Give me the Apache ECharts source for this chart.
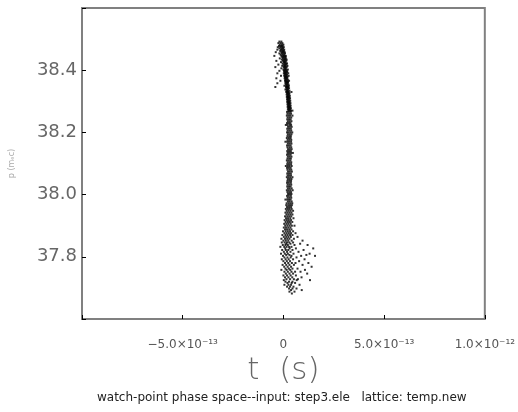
<!DOCTYPE html>
<html>
<head>
<meta charset="utf-8">
<script src="https://cdn.jsdelivr.net/npm/echarts@6/dist/echarts.min.js"></script>
<style>html,body{margin:0;padding:0;background:#fff}#c{width:518px;height:412px}</style>
</head>
<body>
<div id="c"></div>
<script>
// x axis in femtoseconds (1 fs = 1e-15 s); tick labels expressed in seconds
const xTickValues = [-1000, -500, 0, 500, 1000];
const xTickLabels = ['', '\u22125.0\u00d710\u207b\u00b9\u00b3', '0', '5.0\u00d710\u207b\u00b9\u00b3', '1.0\u00d710\u207b\u00b9\u00b2'];
const yTickValues = [37.8, 38.0, 38.2, 38.4];
const xTitle = 't  (s)';
const yTitle = 'p (m\u2091c)';
const subTitle = 'watch-point phase space--input: step3.ele   lattice: temp.new';

// particles: rows of momentum p, each with the t values (fs)
const rowP = [
38.492,38.487,38.482,38.478,38.474,38.470,38.466,38.462,38.458,38.454,38.450,38.446,38.442,38.438,38.434,38.430,
38.426,38.422,38.418,38.414,38.410,38.406,38.402,38.398,38.394,38.390,38.386,38.382,38.378,38.374,38.370,38.366,
38.362,38.358,38.354,38.350,38.346,38.342,38.338,38.334,38.330,38.326,38.322,38.318,38.314,38.310,38.306,38.302,
38.298,38.294,38.290,38.286,38.282,38.278,38.274,38.270,
38.266,38.260,38.254,38.248,38.242,38.236,38.230,38.224,38.218,38.212,38.206,38.200,38.194,38.188,38.182,38.176,
38.170,38.164,38.158,38.152,38.146,38.140,38.134,38.128,38.122,38.116,38.110,38.104,38.098,38.092,38.086,38.080,
38.074,38.068,38.062,38.056,38.050,38.044,38.038,38.032,38.026,38.020,38.014,38.008,38.002,37.996,37.990,37.984,
37.978,37.972,
37.966,37.960,37.954,37.948,37.942,37.936,37.930,37.924,37.918,37.912,37.906,37.900,37.894,37.888,37.882,
37.876,37.870,37.864,37.858,37.852,37.846,37.842,37.838,37.832,37.827,37.822,37.816,37.810,37.806,37.803,37.798,
37.792,37.786,37.780,37.774,37.768,37.762,37.758,37.752,37.746,37.740,37.734,37.728,37.725,37.720,37.716,37.710,
37.704,37.698,37.693,37.688,37.682
];
const rowT = [
[-20,-10],[-25,-14,-5],[-18,-8,0],[-22,-12,-4],[-28,-15,-6,2],[-20,-10,-2],[-30,-12,-4,4],[-16,-6,2],
[-38,-10,-2,6],[-20,-8,0,8],[-14,-4,4],[-45,-10,-1,6,12],[-6,2,10],[-18,-3,5,12],[-8,1,8,16],[-35,-2,6,14],
[-12,3,9],[-4,5,12,18],[-25,0,8,15],[-6,4,10,20],[-40,2,9,16],[-10,5,12],[0,8,14,22],[-20,3,10,17],
[5,12,19],[-30,2,8,14,24],[6,12,18],[-12,4,10,16,26],[8,14,20],[-35,6,12,18],[9,15,22],[-15,8,14,20,28],
[11,17,23],[-30,10,16,22],[12,18,25],[5,14,20,27],[-40,13,19,24],[15,21,28],[10,17,23],[16,22,30],
[14,20,26,40],[18,24,30],[16,22,28],[19,25,32],[17,23,29],[20,26,33],[18,24,30],[21,27,34],
[19,25,31],[22,28,35],[20,26,32],[23,29,36],[21,27,33],[24,30,37],[22,28,34],[25,31,38,45],
[18,27,36],[20,29,38],[17,26,34,45],[21,30,39],[19,28,36],[22,31,40],[18,27,35],[12,20,30,38],
[23,32,41],[19,28,37],[21,30,39],[18,26,35,44],[22,31,40],[20,29,37],[17,27,36],[21,30,39],
[10,19,28,38],[22,31,40],[18,27,36],[20,30,39],[23,32,41],[19,28,37],[21,29,38,47],[18,27,36],
[22,31,40],[20,29,37],[17,26,35],[21,30,39],[19,28,38],[12,22,31,41],[18,27,36],[20,30,39],
[23,32,42],[19,28,37],[21,29,38],[17,26,35,45],[22,31,40],[20,29,38],[18,27,37],[21,30,39],
[19,28,36],[22,31,41],[17,26,35,46],[20,29,38],[23,32,40],[18,27,37],[21,30,39],[10,19,28,36],
[22,31,41],[16,26,35,44],
[14,24,33,42],[18,28,38],[12,22,31,41],[16,26,36,48],[10,20,30,40],[15,25,35,45],[8,19,29,39],
[13,23,34,50],[6,17,27,38],[11,22,32,44],[4,15,25,36],[9,20,31,42,55],[2,13,24,35],[8,18,29,40],
[-2,11,22,33,48],
[5,16,27,38,60],[-5,10,21,33,45],[2,14,25,37,70],[-10,8,19,30,52],[0,12,24,41,95],[-8,6,18,29,48],
[14,35,83],[-3,10,22,55,120],[-15,4,16,28,40],[9,31,62,148],[-6,12,24,45,100],[2,18,35,75],
[-12,7,22,50,130],[14,30,114],[-2,40,88,157],[5,20,36,65],
[-8,11,26,48,105],[0,17,33,78],[8,24,42,60,124],[-4,14,30,52,95],[4,21,38,140],[10,27,45,70],
[-10,16,34,107],[5,22,40,58,85],[12,30,48,118],[0,18,36,62],[8,25,44,90],[15,33,52,72],
[2,66,132],[10,28,45],[20,41,58],[5,25,38,80],
[18,33,50],[28,45,65],[38,91],[30,55],[42]
];

const points = [];
rowP.forEach((p, i) => { (rowT[i] || []).forEach(t => points.push([t, p])); });

const chart = echarts.init(document.getElementById('c'), null, {renderer: 'canvas'});
const labelFont = 'DejaVu Sans';
chart.setOption({
  animation: false,
  backgroundColor: '#ffffff',
  grid: {left: 82, right: 31, top: 8, bottom: 93, show: true, borderColor: '#808080', borderWidth: 2, backgroundColor: 'transparent'},
  xAxis: {
    type: 'value', min: -1000, max: 1000, interval: 500,
    name: xTitle, nameLocation: 'middle', nameGap: 36,
    nameTextStyle: {fontFamily: labelFont, fontSize: 31, fontWeight: 'lighter', color: '#666'},
    axisLine: {show: false, onZero: false},
    axisTick: {show: true, inside: true, length: 4, lineStyle: {color: '#000', width: 1}},
    splitLine: {show: false},
    axisLabel: {
      margin: 20, fontFamily: labelFont, fontSize: 12, color: '#555',
      formatter: v => { const k = xTickValues.indexOf(v); return k >= 0 ? xTickLabels[k] : ''; }
    }
  },
  yAxis: {
    type: 'value', min: 37.6, max: 38.6, interval: 0.2,
    name: yTitle, nameLocation: 'middle', nameGap: 66, nameRotate: 90,
    nameTextStyle: {fontFamily: labelFont, fontSize: 8, color: '#aaa'},
    axisLine: {show: false, onZero: false},
    axisTick: {show: true, inside: true, length: 4, lineStyle: {color: '#000', width: 1}},
    splitLine: {show: false},
    axisLabel: {
      margin: 5, fontFamily: labelFont, fontSize: 18, color: '#666',
      formatter: v => { const r = Math.round(v * 10) / 10; return yTickValues.some(y => Math.abs(y - r) < 1e-6) ? r.toFixed(1) : ''; }
    }
  },
  series: [{
    type: 'scatter', data: points, symbol: 'rect', symbolSize: 2,
    itemStyle: {color: '#000'}, silent: true
  }],
  graphic: [{
    type: 'text', left: 97, top: 392,
    style: {text: subTitle, fontFamily: labelFont, fontSize: 12, fill: '#222'}
  }]
});
</script>
</body>
</html>
